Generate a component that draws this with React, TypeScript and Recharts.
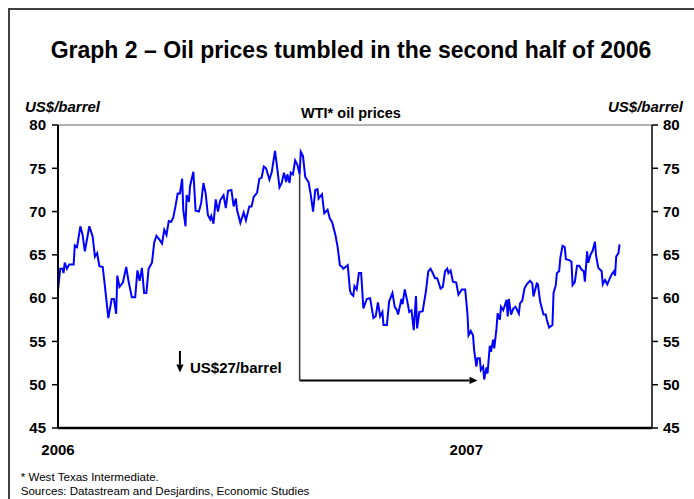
import { LineChart, Line, XAxis, YAxis, ReferenceLine } from 'recharts';

// days since 1 Jan 2006, WTI spot (US$/barrel)
const days = [
  0, 2, 4, 5, 6, 8, 10, 14, 15, 17, 20, 22, 24, 28, 31, 33, 35, 37, 40, 42,
  45, 48, 50, 52, 53, 55, 58, 61, 63, 66, 69, 71, 73, 75, 77, 79, 81, 84, 86, 88,
  91, 93, 95, 97, 99, 101, 103, 105, 107, 109, 111, 112, 114, 115, 117, 118, 121, 123, 126, 128,
  130, 132, 134, 136, 137, 139, 141, 143, 145, 148, 150, 152, 155, 157, 159, 160, 163, 166, 168, 171,
  173, 175, 178, 180, 182, 184, 186, 189, 191, 194, 196, 198, 200, 202, 204, 205, 207, 208, 210, 212,
  214, 216, 217, 219, 221, 224, 226, 228, 230, 232, 233, 236, 238, 241, 243, 245, 248, 250, 252, 254,
  255, 257, 259, 261, 262, 264, 265, 267, 269, 271, 273, 276, 279, 282, 284, 286, 288, 290, 291, 294,
  296, 299, 301, 303, 304, 307, 308, 310, 312, 314, 316, 318, 320, 321, 323, 326, 329, 331, 333, 335,
  337, 339, 342, 344, 346, 348, 349, 351, 353, 356, 358, 361, 364, 366, 367, 369, 371, 372, 374, 375,
  377, 378, 380, 381, 383, 384, 386, 387, 389, 390, 392, 393, 395, 396, 398, 401, 402, 403, 405, 407,
  409, 412, 413, 415, 417, 419, 422, 424, 425, 428, 429, 431, 434, 436, 437, 439, 442, 443, 445, 446,
  448, 449, 451, 453, 454, 457, 459, 460, 462, 464, 466, 468, 470, 471, 473, 474, 476, 478, 480, 481,
  483, 486, 487, 489, 491, 493, 495, 497, 498, 499, 501, 502,
];
const wti = [
  60.9, 63.4, 63.4, 62.9, 64.1, 63.4, 63.9, 63.9, 66.1, 65.9, 68.3, 67.3, 65.4, 68.3, 67.1, 64.8, 65.2, 63.7, 63.6, 61.3,
  57.7, 59.9, 59.9, 58.2, 62.6, 61.3, 61.8, 63.6, 62.0, 60.1, 60.1, 63.2, 62.0, 63.5, 60.6, 60.6, 63.4, 64.1, 66.4, 67.2,
  66.7, 66.3, 67.9, 67.3, 68.9, 68.8, 69.3, 70.6, 72.1, 72.1, 73.8, 70.2, 68.3, 71.9, 71.1, 72.9, 74.6, 70.1, 70.0, 71.0,
  73.3, 72.1, 69.6, 69.1, 69.5, 68.6, 71.4, 70.0, 71.3, 71.9, 70.4, 72.4, 72.5, 70.6, 71.5, 70.2, 68.7, 69.9, 69.0, 70.6,
  70.6, 71.7, 72.2, 73.8, 73.9, 75.2, 75.0, 73.7, 74.5, 77.0, 75.0, 72.8, 73.3, 74.5, 73.4, 74.3, 73.3, 74.5, 74.3, 75.9,
  75.4, 74.3, 76.9, 76.4, 74.0, 73.4, 71.9, 70.0, 72.5, 72.6, 71.5, 72.0, 69.8, 70.2, 69.2, 68.8, 67.3, 65.9, 63.8, 63.6,
  63.4, 63.6, 63.8, 60.9, 60.5, 60.25, 61.4, 61.0, 62.9, 62.9, 58.8, 59.9, 60.0, 57.7, 57.9, 59.5, 57.9, 58.4, 56.9, 56.9,
  59.6, 60.6, 59.0, 58.6, 58.1, 59.9, 59.3, 61.0, 59.8, 58.4, 58.6, 56.3, 60.25, 56.5, 58.4, 58.5, 60.9, 63.1, 63.4, 62.9,
  62.3, 62.3, 61.1, 61.3, 63.1, 63.4, 62.9, 63.2, 61.9, 61.8, 60.4, 61.0, 61.0, 58.25, 55.7, 56.2, 55.7, 54.0, 52.1, 53.05,
  53.05, 51.7, 52.1, 50.6, 52.0, 51.3, 54.5, 53.8, 55.2, 54.2, 56.5, 58.25, 57.5, 59.0, 58.6, 59.8, 57.9, 59.9, 58.1, 58.8,
  59.0, 58.2, 59.4, 59.7, 61.1, 61.6, 62.0, 61.7, 60.2, 61.7, 61.6, 59.6, 58.1, 58.1, 57.5, 56.6, 56.9, 60.6, 61.5, 62.9,
  63.1, 64.6, 66.05, 65.9, 64.5, 64.4, 64.2, 61.5, 61.85, 63.75, 63.75, 63.3, 63.1, 61.9, 65.4, 64.1, 65.0, 65.5, 66.5, 64.9,
  63.5, 63.1, 61.6, 62.1, 61.6, 62.2, 62.75, 63.1, 62.6, 64.8, 65.2, 66.2,
];

const yearTicks = [0, 365];
const yearLabels = ['2006', '2007'];
const priceTicks = [45, 50, 55, 60, 65, 70, 75, 80];
const lastDay = 531;

// drop annotation: from the August peak down to the January low
const dropDay = 216;
const dropHigh = 74.3;
const dropLow = 50.5;
const dropEndDay = 375;
const noteDay = 109;
const noteTop = 53.9;
const noteBottom = 51.4;

const data = days.map((d, i) => ({ day: d, wti: wti[i] }));

const FONT = 'Arial, "Liberation Sans", sans-serif';

const arrowShape = (width: number, head: number) => (p: any) => {
  const dx = p.x2 - p.x1;
  const dy = p.y2 - p.y1;
  const len = Math.hypot(dx, dy) || 1;
  const ux = dx / len;
  const uy = dy / len;
  const bx = p.x2 - ux * head;
  const by = p.y2 - uy * head;
  const hw = head * 0.45;
  return (
    <g>
      <line x1={p.x1} y1={p.y1} x2={bx} y2={by} stroke="#000" strokeWidth={width} />
      <polygon
        points={`${p.x2},${p.y2} ${bx - uy * hw},${by + ux * hw} ${bx + uy * hw},${by - ux * hw}`}
        fill="#000"
      />
    </g>
  );
};

const tickStyle = { fill: '#000', fontSize: 15, fontWeight: 700, fontFamily: FONT };

const text = (extra: any) => ({
  position: 'absolute' as const,
  fontFamily: FONT,
  color: '#000',
  whiteSpace: 'nowrap' as const,
  ...extra,
});

export default function App() {
  return (
    <div style={{ position: 'fixed', left: 0, top: 0, width: 694, height: 499, overflow: 'hidden', background: '#fff' }}>
      <div
        style={{
          position: 'absolute',
          left: 8,
          top: 8,
          width: 694,
          height: 499,
          borderLeft: '2px solid #404040',
          borderTop: '2px solid #404040',
        }}
      />
      <div style={text({ left: 8, width: 686, top: 39, fontSize: 23, lineHeight: '23px', fontWeight: 700, textAlign: 'center' })}>
        Graph 2 – Oil prices tumbled in the second half of 2006
      </div>
      <div style={text({ left: 25, top: 98.7, fontSize: 15, lineHeight: '15px', fontWeight: 700, fontStyle: 'italic' })}>
        US$/barrel
      </div>
      <div style={text({ right: 11, top: 98.7, fontSize: 15, lineHeight: '15px', fontWeight: 700, fontStyle: 'italic' })}>
        US$/barrel
      </div>
      <div style={text({ left: 8, width: 686, top: 106, fontSize: 14.5, lineHeight: '14.5px', fontWeight: 700, textAlign: 'center' })}>
        WTI* oil prices
      </div>

      <div style={{ position: 'absolute', left: 0, top: 0 }}>
        <LineChart width={694} height={499} data={data} margin={{ top: 125, right: 0, bottom: 41, left: 8 }}>
          <XAxis
            dataKey="day"
            type="number"
            domain={[0, lastDay]}
            ticks={yearTicks}
            interval={0}
            tickFormatter={(v: number) => yearLabels[yearTicks.indexOf(v)] ?? ''}
            tick={tickStyle}
            tickSize={0}
            tickMargin={16}
            height={30}
            axisLine={{ stroke: '#000', strokeWidth: 2.5 }}
          />
          <YAxis
            yAxisId="left"
            type="number"
            domain={[45, 80]}
            ticks={priceTicks}
            interval={0}
            width={50}
            tick={tickStyle}
            tickSize={6}
            tickMargin={6}
            tickLine={{ stroke: '#000', strokeWidth: 1.5 }}
            axisLine={{ stroke: '#000', strokeWidth: 2 }}
          />
          <YAxis
            yAxisId="right"
            type="number"
            orientation="right"
            domain={[45, 80]}
            ticks={priceTicks}
            interval={0}
            width={42}
            tick={tickStyle}
            tickSize={6}
            tickMargin={5}
            tickLine={{ stroke: '#000', strokeWidth: 1.5 }}
            axisLine={{ stroke: '#000', strokeWidth: 1.5 }}
          />
          <ReferenceLine yAxisId="left" y={80} stroke="#666" strokeWidth={1} />
          <ReferenceLine
            yAxisId="left"
            segment={[{ x: dropDay, y: dropHigh }, { x: dropDay, y: dropLow }]}
            stroke="#333"
            strokeWidth={1.5}
          />
          <ReferenceLine
            yAxisId="left"
            segment={[{ x: dropDay, y: dropLow }, { x: dropEndDay, y: dropLow }]}
            shape={arrowShape(2, 8)}
          />
          <ReferenceLine
            yAxisId="left"
            segment={[{ x: noteDay, y: noteTop }, { x: noteDay, y: noteBottom }]}
            shape={arrowShape(2, 8)}
          />
          {/* same series on the right scale so that axis gets its ticks; drawn invisibly */}
          <Line
            yAxisId="right"
            type="linear"
            dataKey="wti"
            stroke="transparent"
            strokeWidth={0}
            dot={false}
            activeDot={false}
            legendType="none"
            isAnimationActive={false}
          />
          <Line
            yAxisId="left"
            type="linear"
            dataKey="wti"
            stroke="#0000ff"
            strokeWidth={2}
            dot={false}
            isAnimationActive={false}
          />
        </LineChart>
      </div>

      <div style={text({ left: 190, top: 359.7, fontSize: 15, lineHeight: '15px', fontWeight: 700 })}>
        US$27/barrel
      </div>
      <div style={text({ left: 20.7, top: 470, fontSize: 11.6, lineHeight: '14px' })}>* West Texas Intermediate.</div>
      <div style={text({ left: 20.7, top: 484, fontSize: 11.6, lineHeight: '14px' })}>
        Sources: Datastream and Desjardins, Economic Studies
      </div>
    </div>
  );
}
